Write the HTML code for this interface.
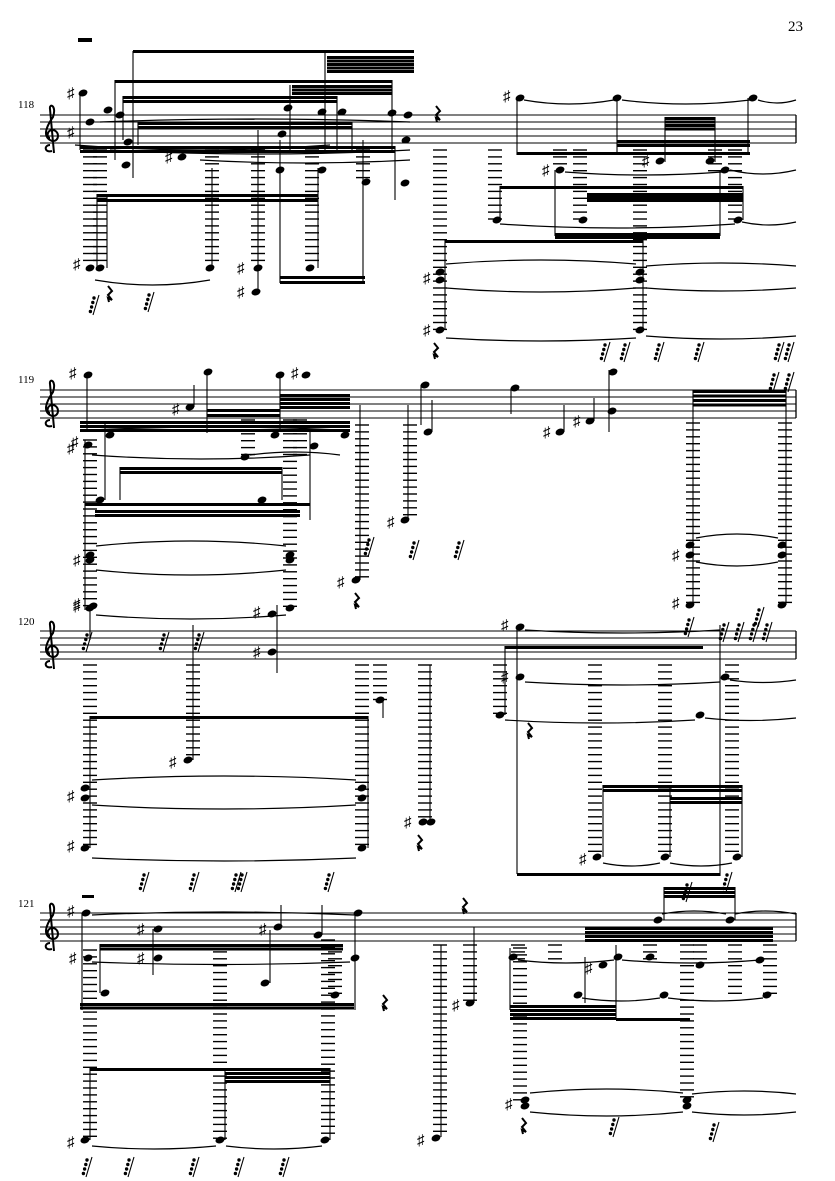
<!DOCTYPE html>
<html><head><meta charset="utf-8">
<style>
html,body{margin:0;padding:0;background:#fff;}
svg{display:block;}
text{font-family:"Liberation Serif",serif;}
</style></head>
<body>
<svg id="s" xmlns="http://www.w3.org/2000/svg" width="835" height="1181" viewBox="0 0 835 1181">
<rect width="835" height="1181" fill="#fff"/>
<text x="788" y="31" font-size="15">23</text>
<text x="18" y="108" font-size="11">118</text>
<text x="18" y="383" font-size="11">119</text>
<text x="18" y="625" font-size="11">120</text>
<text x="18" y="907" font-size="11">121</text>
<g id="g" stroke="#000" fill="#000"></g>
</svg>
<script>
var g=document.getElementById('g'),NS='http://www.w3.org/2000/svg',out='';
function st(x1,y1,x2,y2,w){out+='<line x1="'+x1+'" y1="'+y1+'" x2="'+x2+'" y2="'+y2+'" stroke-width="'+(w||1)+'"/>';}
function S(x,y1,y2){st(x,y1,x,y2,1.1);}
function B(x1,x2,y,n,gap){gap=gap||5;for(var i=0;i<(n||1);i++)out+='<rect x="'+x1+'" y="'+(y+i*gap)+'" width="'+(x2-x1)+'" height="3" stroke="none"/>';}
function L(x,y1,y2){for(var y=y1;y<=y2;y+=6.9)st(x-7,y,x+7,y,1.4);}
function N(x,y){out+='<ellipse cx="'+x+'" cy="'+y+'" rx="4.6" ry="3.3" transform="rotate(-20 '+x+' '+y+')" stroke="none"/>';}
function SH(x,y){out+='<text x="'+(x-13)+'" y="'+(y+5)+'" font-size="15" stroke="none" font-family="DejaVu Sans">♯</text>';}
function T(x1,x2,y,d){out+='<path d="M'+x1+' '+y+' Q'+((x1+x2)/2)+' '+(y+d)+' '+x2+' '+y+'" fill="none" stroke-width="1.2"/>';}
function R(x,y){out+='<path d="M'+(x-2)+' '+(y-7)+' l4 5 l-4 4 l4 5 l-4 -2 l1 4" fill="none" stroke-width="2"/>';}
function FR(x,y){st(x+4,y-8,x-2,y+12,1.1);for(var i=0;i<4;i++)out+='<circle cx="'+(x-1+i*-1.2)+'" cy="'+(y-5+i*4.5)+'" r="1.7" stroke="none"/>';}
function staff(y){for(var i=0;i<5;i++)st(40,y+i*7,796,y+i*7,1);st(796,y,796,y+28,1.3);
 out+='<path d="M52 '+(y+36)+' C44 '+(y+38)+' 44 '+(y+30)+' 50 '+(y+30)+' M54 '+(y+38)+' L50 '+(y-6)+' C49 '+(y-12)+' 57 '+(y-10)+' 53 '+(y+2)+' C46 '+(y+12)+' 42 '+(y+22)+' 52 '+(y+26)+' C60 '+(y+27)+' 60 '+(y+15)+' 52 '+(y+15)+' C46 '+(y+16)+' 47 '+(y+23)+' 50 '+(y+23)+'" fill="none" stroke-width="2"/>';}
// SYSTEM 1
staff(115);
out+='<rect x="78" y="38" width="14" height="4" stroke="none"/>';
S(133,51,178);B(133,414,50,1);B(327,414,56,5,3.5);
B(115,392,80,1);B(292,392,85,3,3.5);
B(123,337,96,2,4);B(138,352,122,2,4);
B(80,395,146,2,4);
S(80,95,150);N(83,93);SH(80,93);N(90,122);SH(80,132);N(108,110);N(120,115);N(128,142);N(126,165);
S(115,80,160);S(123,96,140);S(138,122,145);S(290,85,150);S(325,52,150);S(337,96,150);S(352,122,150);S(392,80,150);S(395,146,200);
N(288,108);N(322,112);N(342,112);N(282,134);N(392,113);N(408,115);N(182,157);SH(178,157);N(280,170);N(322,170);N(366,182);N(405,183);N(406,140);
L(90,150,262);L(100,150,262);L(212,150,262);L(258,150,262);L(312,150,262);L(363,150,182);
B(97,318,194,2,5);S(97,194,268);S(107,194,268);S(212,168,268);S(318,168,268);
N(90,268);N(100,268);N(210,268);N(258,268);N(256,292);N(310,268);SH(86,264);SH(250,268);SH(250,292);
S(258,130,292);B(280,365,276,2,5);S(280,140,283);S(363,140,283);
T(95,210,280,10);T(100,410,122,-6);T(110,410,150,8);T(75,330,145,10);T(200,410,160,6);
FR(95,303);FR(150,300);R(110,293);
// sys1 right
R(438,113);N(520,98);SH(516,96);N(617,98);N(753,98);T(524,614,100,8);T(622,750,100,8);T(758,796,100,6);
S(517,98,155);B(517,750,152,1);S(617,98,152);B(617,750,140,2,4);B(665,715,117,4,3.5);S(665,117,162);S(715,117,162);S(748,98,152);
N(660,161);SH(655,161);N(710,161);N(560,170);SH(555,170);N(725,170);T(565,722,172,6);T(730,796,170,8);
S(555,170,236);S(720,170,236);B(555,720,233,2,3);
B(500,743,186,1);B(587,743,193,3,3);S(500,186,220);S(743,186,220);
N(497,220);N(583,220);N(738,220);T(500,735,224,8);T(742,796,222,6);
L(440,150,330);L(495,150,220);L(580,150,220);L(640,150,335);L(715,150,175);L(735,150,220);L(560,150,170);
B(445,643,240,1);S(445,240,330);S(643,240,330);
N(440,272);N(440,280);SH(436,278);N(640,272);N(640,280);T(446,636,264,-8);T(446,636,288,8);T(646,796,266,-6);T(646,796,288,6);
N(440,330);SH(436,330);N(640,330);T(446,636,338,6);T(646,796,336,6);
R(436,350);FR(606,350);FR(626,350);FR(660,350);FR(700,350);FR(780,350);FR(790,350);
// SYSTEM 2
staff(390);
N(88,375);SH(82,373);S(87,375,430);N(208,372);S(207,372,433);N(280,375);N(306,375);SH(304,373);S(280,375,430);
N(190,407);SH(185,409);S(194,385,407);
B(80,350,421,3,4);B(207,280,409,2,5);B(280,350,394,4,4);
N(110,435);N(245,457);N(275,435);N(345,435);N(314,446);N(88,445);SH(80,448);SH(84,442);
T(92,340,430,-6);T(92,310,455,8);T(250,340,455,-6);
L(90,440,608);L(290,420,608);L(248,420,455);L(300,420,460);L(362,425,580);L(410,425,520);
B(120,282,467,2,4);S(105,421,500);S(120,467,500);S(282,467,500);N(100,500);N(262,500);
B(85,310,503,1);S(85,440,610);S(310,430,520);B(95,300,510,2,4);
N(90,555);N(90,560);SH(86,560);N(290,555);N(290,560);T(96,286,546,-10);T(96,286,570,10);
N(90,608);SH(86,606);N(290,608);T(96,286,615,8);
S(360,405,580);N(356,580);SH(350,582);R(357,600);S(408,405,520);N(405,520);SH(400,522);
N(425,385);S(421,385,425);N(428,432);S(432,400,432);N(515,388);S(511,388,414);
N(560,432);SH(556,432);S(564,405,432);N(590,421);SH(586,421);S(594,398,421);N(612,411);N(613,372);S(609,370,432);
FR(370,545);FR(415,548);FR(460,548);
L(693,423,605);L(785,423,605);B(693,786,390,4,4.5);S(693,390,605);S(786,390,605);
N(690,545);N(690,555);SH(685,555);N(782,545);N(782,555);T(696,778,538,-8);T(696,778,562,8);
N(690,605);SH(685,603);N(782,605);FR(775,380);FR(790,380);
// SYSTEM 3
staff(631);
N(93,606);SH(86,604);S(90,606,640);FR(88,640);FR(165,640);FR(200,640);
L(90,665,848);L(193,665,760);L(362,665,848);
B(90,368,716,1);S(90,716,848);S(368,716,848);S(193,625,760);N(188,760);SH(182,762);
N(85,788);N(85,798);SH(80,796);N(362,788);N(362,798);T(92,356,780,-8);T(92,356,805,8);
N(85,848);SH(80,846);N(362,848);T(92,356,858,6);
N(272,614);SH(266,612);N(272,652);SH(266,652);S(277,605,673);
L(380,665,700);N(380,700);S(383,700,718);
FR(145,880);FR(195,880);FR(237,880);FR(243,880);FR(330,880);
L(425,665,820);S(430,665,820);N(423,822);N(431,822);SH(417,822);R(420,842);
N(520,627);SH(514,625);S(517,627,874);T(525,720,630,6);
B(505,703,646,1);S(505,646,715);N(500,715);L(500,665,715);
N(520,677);SH(514,677);N(725,677);T(525,720,682,6);T(730,796,680,5);
N(700,715);T(505,695,720,6);T(705,796,718,5);
L(595,665,855);L(665,665,855);L(732,665,855);
B(603,742,785,2,4);B(670,742,797,2,4);S(603,785,857);S(670,785,857);S(742,785,857);
N(597,857);SH(592,859);N(665,857);N(737,857);T(603,660,863,6);T(670,732,863,6);
B(517,720,873,1);S(720,625,876);R(530,730);
FR(690,625);FR(725,630);FR(740,630);FR(755,630);FR(768,630);FR(760,615);
// SYSTEM 4
staff(913);
out+='<rect x="82" y="895" width="12" height="3" stroke="none"/>';
N(86,913);SH(80,911);T(92,355,915,-6);S(82,913,1010);
B(100,343,944,2,3.5);B(80,354,1003,2,3.5);
N(88,958);SH(82,958);N(105,993);S(100,944,993);T(92,350,962,5);
N(158,929);SH(150,929);S(153,929,975);N(158,958);SH(150,958);
N(265,983);S(270,930,983);N(278,927);SH(272,929);S(281,905,927);N(318,935);S(322,905,935);
N(358,913);S(355,913,1010);N(355,958);N(335,995);
L(90,950,1140);L(220,945,1140);L(328,940,1140);L(335,945,995);
B(90,330,1068,1);B(225,330,1072,3,4);S(90,1068,1140);S(225,1068,1140);S(330,1068,1140);
N(85,1140);SH(80,1142);N(220,1140);N(325,1140);T(92,216,1146,6);T(226,322,1146,6);
FR(88,1165);FR(130,1165);FR(195,1165);FR(240,1165);FR(285,1165);R(385,1002);
L(440,945,1137);N(436,1138);SH(430,1140);S(441,945,1137);
L(470,945,1003);N(470,1003);SH(465,1005);S(474,927,1003);R(465,905);
B(510,616,1005,4,4);S(510,948,1010);S(616,945,1020);
L(520,948,1100);L(687,945,1100);B(616,690,1018,1);
N(525,1100);N(525,1106);SH(518,1104);N(687,1100);N(687,1106);T(530,683,1093,-8);T(530,683,1112,8);T(692,796,1094,-6);T(692,796,1112,6);
R(524,1125);FR(615,1125);FR(715,1130);
N(513,957);N(618,957);N(650,957);N(578,995);N(664,995);N(767,995);N(603,965);SH(598,968);N(700,965);N(760,960);
S(585,957,1003);B(585,773,927,4,4);B(664,735,887,3,4);S(664,887,920);S(735,887,920);
N(658,920);N(730,920);T(662,726,914,-6);T(735,796,914,-6);
T(518,614,960,6);T(622,760,960,6);T(582,660,998,6);T(668,763,998,6);
L(518,945,960);L(555,945,965);L(650,945,960);L(700,945,965);L(735,945,995);L(770,945,1000);
FR(688,890);FR(728,880);
g.innerHTML=out;
</script>
</body></html>
